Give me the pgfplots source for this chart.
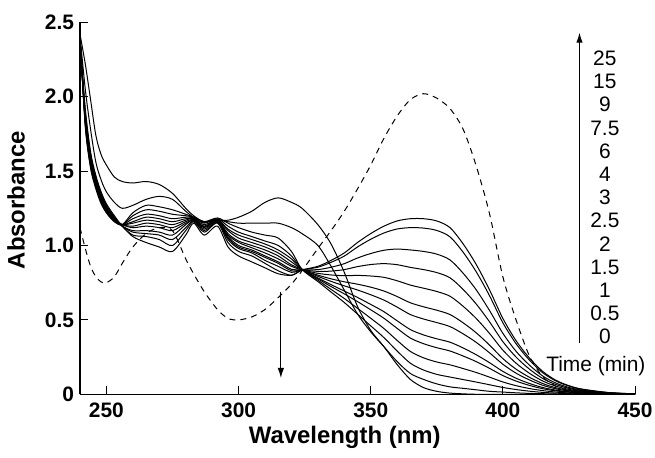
\documentclass[border=0pt]{standalone}
\usepackage{fontspec}
\setmainfont{Liberation Sans}
\usepackage{pgfplots}
\usepackage{pgfplotstable}
\pgfplotsset{compat=1.18}
\usetikzlibrary{arrows.meta}

% absorbance spectra recorded at 0 ... 25 min (c0 ... c12) and the reference spectrum (dash)
\pgfplotstableread{
lam  c0    c1    c2    c3    c4    c5    c6    c7    c8    c9    c10   c11   c12   dash
240  2.42  2.41  2.40  2.40  2.40  2.39  2.39  2.39  2.38  2.38  2.38  2.37  2.37  1.12
242  2.22  2.05  1.80  1.81  1.82  1.83  1.84  1.85  1.86  1.87  1.88  1.90  1.92  0.98
244  1.98  1.78  1.52  1.53  1.54  1.55  1.56  1.57  1.58  1.59  1.60  1.61  1.63  0.86
246  1.74  1.56  1.38  1.39  1.40  1.40  1.41  1.42  1.43  1.44  1.45  1.46  1.47  0.79
248  1.61  1.44  1.28  1.29  1.30  1.30  1.31  1.32  1.33  1.33  1.34  1.35  1.36  0.755
250  1.54  1.36  1.22  1.22  1.23  1.23  1.24  1.24  1.25  1.25  1.26  1.27  1.28  0.75
253  1.46  1.29  1.16  1.16  1.17  1.17  1.17  1.18  1.18  1.18  1.19  1.19  1.20  0.79
256  1.43  1.25  1.14  1.14  1.14  1.14  1.14  1.14  1.14  1.13  1.13  1.13  1.13  0.88
260  1.42  1.27  1.22  1.20  1.18  1.16  1.15  1.13  1.12  1.10  1.09  1.07  1.06  0.99
265  1.43  1.31  1.27  1.24  1.21  1.19  1.17  1.15  1.13  1.10  1.08  1.06  1.02  1.08
270  1.41  1.33  1.26  1.23  1.20  1.18  1.16  1.14  1.12  1.09  1.07  1.04  0.99  1.12
275  1.35  1.31  1.24  1.21  1.18  1.16  1.14  1.12  1.10  1.07  1.04  1.00  0.96  1.10
280  1.25  1.23  1.21  1.20  1.19  1.18  1.17  1.16  1.15  1.14  1.12  1.10  1.07  0.91
283  1.20  1.19  1.19  1.19  1.185 1.18  1.18  1.175 1.17  1.17  1.165 1.16  1.15  0.81
287  1.16  1.16  1.16  1.155 1.15  1.14  1.13  1.125 1.12  1.11  1.10  1.09  1.07  0.69
292  1.17  1.17  1.185 1.18  1.175 1.17  1.17  1.165 1.16  1.16  1.155 1.15  1.13  0.57
296  1.17  1.16  1.15  1.13  1.11  1.10  1.08  1.07  1.06  1.05  1.04  1.02  0.99  0.51
300  1.19  1.15  1.12  1.09  1.07  1.05  1.03  1.02  1.00  0.99  0.98  0.96  0.93  0.50
305  1.23  1.15  1.09  1.06  1.04  1.02  1.00  0.985 0.97  0.96  0.95  0.93  0.89  0.52
310  1.29  1.15  1.07  1.03  1.01  0.99  0.97  0.95  0.93  0.92  0.90  0.88  0.85  0.57
315  1.32  1.15  1.05  1.00  0.97  0.95  0.93  0.91  0.89  0.88  0.86  0.83  0.81  0.65
320  1.29  1.12  0.96  0.93  0.91  0.89  0.87  0.86  0.84  0.83  0.82  0.80  0.80  0.74
324  1.25  1.08  0.84  0.84  0.84  0.84  0.84  0.835 0.835 0.835 0.835 0.835 0.835 0.83
330  1.14  1.00  0.758 0.767 0.776 0.782 0.793 0.801 0.813 0.826 0.838 0.854 0.86  0.98
335  1.01  0.86  0.687 0.705 0.724 0.737 0.759 0.776 0.802 0.828 0.854 0.887 0.90  1.10
340  0.82  0.70  0.617 0.644 0.675 0.694 0.729 0.756 0.797 0.838 0.878 0.929 0.95  1.23
345  0.59  0.54  0.539 0.578 0.623 0.651 0.701 0.740 0.799 0.858 0.916 0.990 1.02  1.38
350  0.43  0.42  0.460 0.511 0.568 0.604 0.669 0.720 0.795 0.872 0.946 1.042 1.08  1.54
355  0.32  0.32  0.381 0.442 0.511 0.555 0.633 0.694 0.786 0.878 0.968 1.084 1.13  1.72
360  0.20  0.22  0.291 0.362 0.443 0.494 0.586 0.657 0.763 0.871 0.976 1.111 1.165 1.87
365  0.10  0.14  0.209 0.288 0.378 0.435 0.536 0.615 0.734 0.853 0.970 1.120 1.18  1.98
370  0.045 0.10  0.163 0.245 0.340 0.399 0.506 0.588 0.713 0.838 0.960 1.117 1.18  2.02
375  0.02  0.07  0.134 0.217 0.313 0.373 0.482 0.565 0.691 0.818 0.942 1.101 1.165 1.99
380  0.008 0.05  0.116 0.198 0.291 0.350 0.455 0.536 0.659 0.783 0.903 1.058 1.12  1.92
385  0.003 0.04  0.099 0.173 0.257 0.311 0.406 0.480 0.591 0.704 0.813 0.954 1.01  1.78
390  0     0.03  0.082 0.146 0.219 0.265 0.348 0.412 0.508 0.605 0.700 0.821 0.87  1.53
395  0     0.02  0.064 0.115 0.174 0.212 0.278 0.330 0.408 0.486 0.562 0.661 0.70  1.21
400  0     0.015 0.046 0.083 0.126 0.154 0.202 0.240 0.297 0.354 0.410 0.481 0.51  0.79
405  0     0.01  0.032 0.058 0.089 0.108 0.142 0.169 0.209 0.250 0.289 0.340 0.36  0.50
410  0     0.006 0.021 0.039 0.060 0.073 0.097 0.115 0.142 0.170 0.197 0.231 0.245 0.26
415  0     0.004 0.013 0.025 0.038 0.046 0.061 0.073 0.090 0.107 0.124 0.146 0.155 0.12
420  0     0.002 0.008 0.015 0.023 0.028 0.037 0.044 0.055 0.066 0.076 0.090 0.095 0.055
425  0     0.001 0.004 0.009 0.014 0.017 0.022 0.027 0.033 0.040 0.046 0.055 0.058 0.025
430  0     0     0.003 0.005 0.008 0.010 0.014 0.016 0.020 0.024 0.028 0.033 0.035 0.012
440  0     0     0.001 0.002 0.003 0.003 0.005 0.006 0.007 0.008 0.010 0.011 0.012 0.004
450  0     0     0     0     0.001 0.001 0.001 0.001 0.002 0.002 0.002 0.003 0.003 0
}\spectra

\begin{document}
\begin{tikzpicture}
\begin{axis}[
  at={(0,0)}, anchor=south west,
  scale only axis, width=555bp, height=372bp,
  xmin=240, xmax=450, ymin=0, ymax=2.5,
  enlargelimits=false,
  axis x line=bottom, axis y line=left,
  axis line style={-, line width=1.2bp, black},
  tick align=inside, major tick length=8bp,
  tick style={black, line width=1bp},
  xtick={250,300,350,400,450},
  ytick={0,0.5,1,1.5,2,2.5},
  yticklabels={0,0.5,1.0,1.5,2.0,2.5},
  /pgf/number format/assume math mode=true,
  ticklabel style={font=\fontsize{21}{25}\selectfont\bfseries},
  xticklabel style={yshift=-5bp},
  yticklabel style={xshift=-2.5bp},
  xlabel={Wavelength (nm)},
  ylabel={Absorbance},
  label style={font=\fontsize{24}{28}\selectfont\bfseries},
  xlabel style={at={(axis description cs:0.477,-0.115)}, anchor=center},
  ylabel style={at={(axis description cs:-0.1153,0.522)}, anchor=center},
  clip=false,
]
\pgfplotsinvokeforeach{c0,c1,c2,c3,c4,c5,c6,c7,c8,c9,c10,c11,c12}{
  \addplot[black, line width=1bp, smooth, tension=0.5] table[x=lam, y=#1] {\spectra};
}
\addplot[black, line width=1bp, smooth, tension=0.5, dash pattern=on 6bp off 5bp] table[x=lam, y=dash] {\spectra};

% direction of change with time
\draw[black, line width=1bp, -{Latex[length=10bp, width=6.5bp]}] (axis cs:316,0.69) -- (axis cs:316,0.11);
\draw[black, line width=1bp, -{Latex[length=10bp, width=6.5bp]}] (axis cs:429,0.345) -- (axis cs:429,2.43);

\begin{scope}[every node/.style={font=\fontsize{21}{25}\selectfont, anchor=center, inner sep=0pt}]
\node at (axis cs:438.6,2.258) {25};
\node at (axis cs:438.6,2.102) {15};
\node at (axis cs:438.6,1.946) {9};
\node at (axis cs:438.6,1.790) {7.5};
\node at (axis cs:438.6,1.634) {6};
\node at (axis cs:438.6,1.478) {4};
\node at (axis cs:438.6,1.322) {3};
\node at (axis cs:438.6,1.167) {2.5};
\node at (axis cs:438.6,1.011) {2};
\node at (axis cs:438.6,0.855) {1.5};
\node at (axis cs:438.6,0.699) {1};
\node at (axis cs:438.6,0.543) {0.5};
\node at (axis cs:438.6,0.387) {0};
\node at (axis cs:435.2,0.19) {Time (min)};
\end{scope}
\end{axis}
\pgfresetboundingbox
\useasboundingbox (-80bp,-63.7bp) rectangle (575bp,394.3bp);
\end{tikzpicture}
\end{document}
